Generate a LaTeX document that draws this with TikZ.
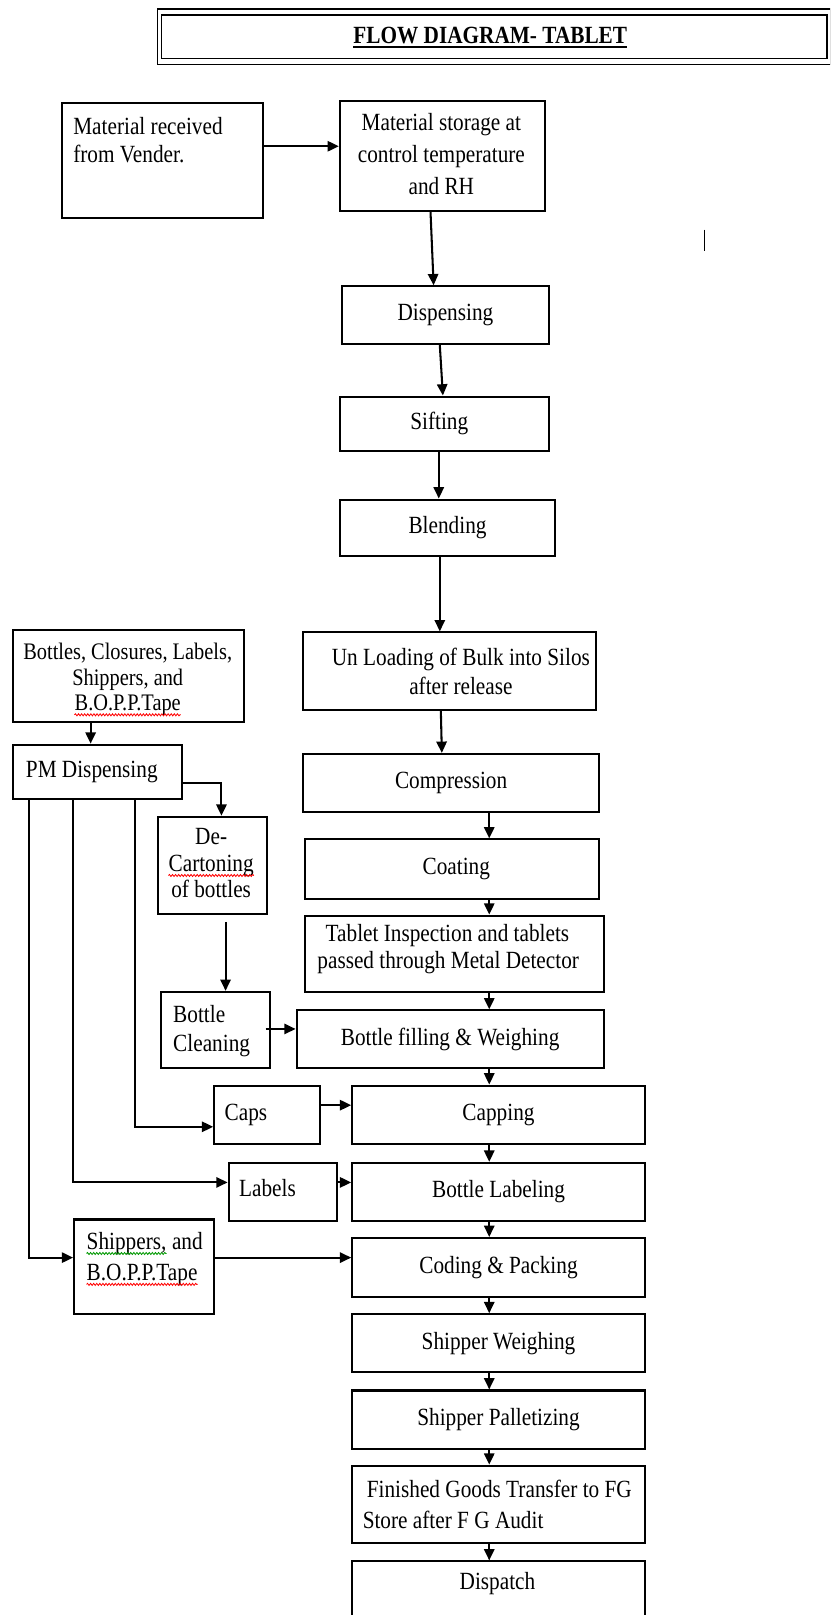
\documentclass[tikz,border=0pt]{standalone}
\usepackage{fontspec}
\setmainfont{Liberation Serif}[FakeStretch=0.86]
\usetikzlibrary{arrows.meta,calc,decorations.pathmorphing}
\newcommand\fs{\fontsize{24}{28}\selectfont}
\begin{document}
\begin{tikzpicture}[x=1pt,y=-1pt,
  every node/.style={font=\fs},
  box/.style={draw, line width=2pt, inner sep=0pt, anchor=north west, align=center},
  txt/.style={inner sep=0pt, align=left},
  arr/.style={line width=2pt, -{Triangle[length=11pt,width=10pt]}},
  wave/.style={line width=0.8pt, decorate, decoration={snake, amplitude=1pt, segment length=3pt}},
  ln/.style={line width=2pt}]
\clip (0,0) rectangle (806,1568);
\fill[white] (0,0) rectangle (806,1568);

% title
\node[draw, line width=1.5pt, inner sep=0pt, anchor=north west, minimum width=654pt, minimum height=54pt] (tout) at (152,8) {};
\node[draw, line width=1.5pt, inner sep=0pt, anchor=north west, minimum width=646pt, minimum height=42pt] (tin) at (156,14) {};
\node[txt, anchor=base] (ttl) at (476,42) {\textbf{FLOW DIAGRAM- TABLET}};
\draw[line width=1.8pt] ([yshift=-4pt]ttl.base west) -- ([yshift=-4pt]ttl.base east);

% main column
\node[box, minimum width=195pt, minimum height=112pt] (recv) at (59,99) {};
\node[txt, anchor=north west, font=\fontsize{24}{27}\selectfont] (recvt) at (71,114) {Material received\\from Vender.};
\node[box, minimum width=199pt, minimum height=107pt] (stor) at (329,97) {};
\node[txt, align=center, anchor=north, font=\fontsize{24}{31}\selectfont] (stort) at (428.5,110) {Material storage at\\control temperature\\and RH};
\node[box, minimum width=201pt, minimum height=56pt] (disp) at (331,277) {Dispensing};
\node[box, minimum width=203pt, minimum height=53pt] (sift) at (329,384) {};
\node[txt, anchor=center] (siftt) at ([xshift=-5pt]sift.center) {Sifting};
\node[box, minimum width=209pt, minimum height=55pt] (blend) at (329,484) {Blending};
\node[box, minimum width=285pt, minimum height=75pt] (unload) at (293,613) {};
\node[txt, align=center, anchor=center, font=\fontsize{24}{28}\selectfont] (unloadt) at ([xshift=11pt]unload.center) {Un Loading of Bulk into Silos\\after release};
\node[box, minimum width=288pt, minimum height=56pt] (comp) at (293,731) {Compression};
\node[box, minimum width=286pt, minimum height=58pt] (coat) at (295,814) {};
\node[txt, anchor=center] (coatt) at ([xshift=4pt]coat.center) {Coating};
\node[box, minimum width=290pt, minimum height=74pt] (insp) at (295,888) {};
\node[txt, anchor=north west, font=\fontsize{24}{26}\selectfont] (inspt) at (308,897.5) {\hspace{8pt}Tablet Inspection and tablets\\passed through Metal Detector};
\node[box, minimum width=298pt, minimum height=56pt] (fill) at (287,980) {Bottle filling \& Weighing};
\node[box, minimum width=284pt, minimum height=57pt] (cap) at (341,1053) {Capping};
\node[box, minimum width=284pt, minimum height=56pt] (lab) at (341,1128) {Bottle Labeling};
\node[box, minimum width=284pt, minimum height=57pt] (code) at (341,1201) {Coding \& Packing};
\node[box, minimum width=284pt, minimum height=56pt] (sw) at (341,1275) {Shipper Weighing};
\node[box, minimum width=284pt, minimum height=57pt] (sp) at (341,1349) {Shipper Palletizing};
\node[box, minimum width=284pt, minimum height=75pt] (fg) at (341,1422) {};
\node[txt, anchor=north west, font=\fontsize{24}{30}\selectfont] (fgt) at (352,1436.5) {\hspace{4pt}Finished Goods Transfer to FG\\Store after F G Audit};
\node[box, minimum width=284pt, minimum height=100pt] (dsp) at (341,1515) {};
\node[txt, anchor=base] (dspt) at (483,1543) {Dispatch};

% left column
\node[box, minimum width=224pt, minimum height=89pt] (bottles) at (12,611) {};
\node[txt, align=center, anchor=north, font=\fontsize{23}{24.5}\selectfont] (bottlest) at (124,624.5) {Bottles, Closures, Labels,\\Shippers, and};
\node[txt, anchor=base, font=\fontsize{23}{24.5}\selectfont] (bottlest3) at (124,690) {B.O.P.P.Tape};
\draw[wave, red] ([yshift=-4pt]bottlest3.base west) -- ([yshift=-4pt]bottlest3.base east);
\node[box, minimum width=164pt, minimum height=53pt] (pm) at (12,722) {};
\node[txt, anchor=base west] (pmt) at (25,755) {PM Dispensing};
\node[box, minimum width=106pt, minimum height=94pt] (decart) at (152,792) {};
\node[txt, anchor=base] (dct1) at (205,820) {De-};
\node[txt, anchor=base] (dct2) at (205,846) {Cartoning};
\node[txt, anchor=base] (dct3) at (205,871) {of bottles};
\draw[wave, red] ([yshift=-4pt]dct2.base west) -- ([yshift=-4pt]dct2.base east);
\node[box, minimum width=106pt, minimum height=74pt] (clean) at (155,962) {};
\node[txt, anchor=north west, font=\fontsize{24}{29}\selectfont] (cleant) at (168,975.5) {Bottle\\Cleaning};
\node[box, minimum width=103pt, minimum height=57pt] (caps) at (207,1053) {};
\node[txt, anchor=base west] (capst) at (218,1088) {Caps};
\node[box, minimum width=105pt, minimum height=56pt] (labels) at (221,1128) {};
\node[txt, anchor=base west] (labelst) at (232,1162) {Labels};
\node[box, minimum width=136pt, minimum height=92pt] (ship) at (71,1183) {};
\node[txt, anchor=base west] (sh1) at (84,1213) {Shippers,};
\node[txt, anchor=base west] (sh2) at ([xshift=5pt]sh1.base east) {and};
\node[txt, anchor=base west] (sh3) at (84,1243) {B.O.P.P.Tape};
\draw[wave, green!60!black] ([yshift=-4pt]sh1.base west) -- ([yshift=-4pt]sh1.base east);
\draw[wave, red] ([yshift=-4pt]sh3.base west) -- ([yshift=-4pt]sh3.base east);

% helper positions
\coordinate (mx) at (475,0);
\coordinate (bx) at (88,0);
\coordinate (dc) at (219,0);
\coordinate (l1) at (28,0);
\coordinate (l2) at (71,0);
\coordinate (l3) at (131,0);
\coordinate (cf) at ($(fill.west)+(0,-10)$);

% main connectors
\draw[arr] ([yshift=-43pt]recv.north east) -- ([yshift=-45pt]stor.north west);
\draw[arr] ([xshift=-11.5pt]stor.south) -- ([xshift=-11.5pt]disp.north);
\draw[arr] ([xshift=-5.5pt]disp.south) -- ([xshift=-1.5pt]sift.north);
\draw[arr] ([xshift=-5.5pt]sift.south) -- ([xshift=-8.5pt]blend.north);
\draw[arr] ([xshift=-7.5pt]blend.south) -- ([xshift=-9.5pt]unload.north);
\draw[arr] ([xshift=-8.5pt]unload.south) -- ([xshift=-9pt]comp.north);
\draw[arr] (comp.south -| mx) -- (coat.north -| mx);
\draw[arr] (coat.south -| mx) -- (insp.north -| mx);
\draw[arr] (insp.south -| mx) -- (fill.north -| mx);
\draw[arr] (fill.south -| mx) -- (cap.north -| mx);
\draw[arr] (cap.south -| mx) -- (lab.north -| mx);
\draw[arr] (lab.south -| mx) -- (code.north -| mx);
\draw[arr] (code.south -| mx) -- (sw.north -| mx);
\draw[arr] (sw.south -| mx) -- (sp.north -| mx);
\draw[arr] (sp.south -| mx) -- (fg.north -| mx);
\draw[arr] (fg.south -| mx) -- (dsp.north -| mx);

% left connectors
\draw[arr] (bottles.south -| bx) -- (pm.north -| bx);
\draw[arr] ([yshift=-10.5pt]pm.east) -| ([xshift=9pt]decart.north);
\draw[arr] (decart.south -| dc) ++(0,7) -- (clean.north -| dc);
\draw[arr] ($(clean.east |- cf)+(-5,0)$) -- (cf);
\draw[arr] (pm.south -| l3) |- ($(caps.west)+(0,11.5)$);
\draw[arr] ($(caps.east)+(0,-9.5)$) -- ($(cap.west)+(0,-9.5)$);
\draw[arr] (pm.south -| l2) |- ($(labels.west)+(0,-9)$);
\draw[arr] ($(labels.east)+(0,-9)$) -- ($(lab.west)+(0,-9)$);
\draw[arr] (pm.south -| l1) |- ($(ship.west)+(0,-9)$);
\draw[arr] ($(ship.east)+(0,-9)$) -- ($(code.west)+(0,-9.5)$);

% stray cursor mark
\draw[line width=1.3pt] (684,223) -- (684,244);
\end{tikzpicture}
\end{document}
